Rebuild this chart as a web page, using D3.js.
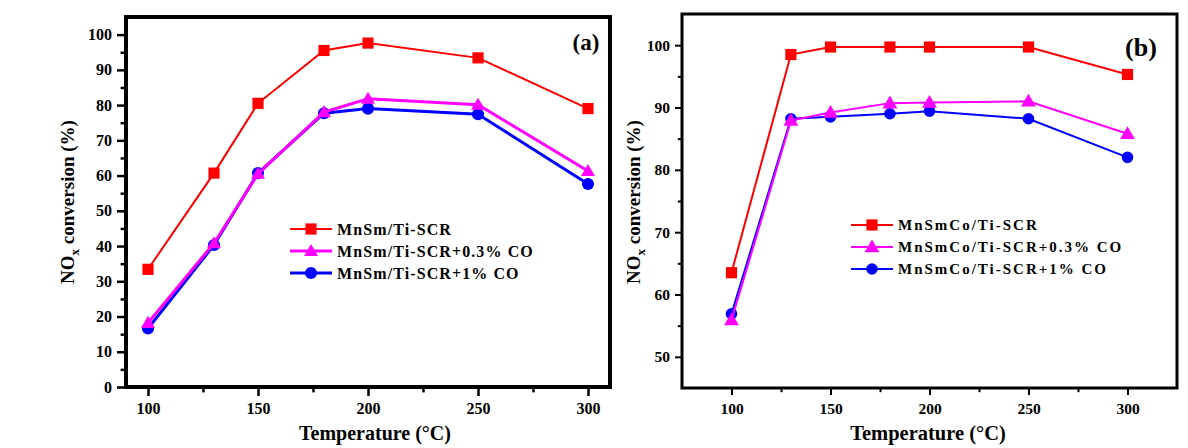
<!DOCTYPE html>
<html><head><meta charset="utf-8">
<script src="https://cdn.jsdelivr.net/npm/d3@7"></script>
<style>body{margin:0;background:#fff}svg{display:block}</style>
</head><body>
<svg id="c" width="1188" height="448"></svg>
<script>
const temps = [100, 130, 150, 180, 200, 250, 300];
const aNames = ["MnSm/Ti-SCR", "MnSm/Ti-SCR+0.3% CO", "MnSm/Ti-SCR+1% CO"];
const aRed = [33.4, 60.7, 80.5, 95.5, 97.6, 93.4, 79.0];
const aMag = [18.2, 40.8, 60.5, 78.0, 81.8, 80.1, 61.3];
const aBlue = [16.6, 40.3, 60.7, 77.7, 79.0, 77.4, 57.6];
const bNames = ["MnSmCo/Ti-SCR", "MnSmCo/Ti-SCR+0.3% CO", "MnSmCo/Ti-SCR+1% CO"];
const bRed = [63.5, 98.5, 99.7, 99.7, 99.7, 99.7, 95.3];
const bMag = [55.9, 87.9, 89.2, 90.7, 90.8, 91.0, 85.8];
const bBlue = [56.9, 88.2, 88.5, 89.0, 89.4, 88.2, 82.0];
const xTicks = [100, 150, 200, 250, 300];
const aYTicks = [0,10,20,30,40,50,60,70,80,90,100];
const bYTicks = [50,60,70,80,90,100];
const colors = ["#ff0000", "#ff00ff", "#0000ff"];
const shapes = [d3.symbolSquare, d3.symbolTriangle, d3.symbolCircle];
const FONT = '"Liberation Serif", "Times New Roman", serif';

const svg = d3.select("#c");

function txt(sel) { return sel.style("font-family", FONT).style("font-weight", "bold").attr("fill", "#000"); }

function panel(o) {
  const g = svg.append("g");
  const x = d3.scaleLinear().domain(o.xd).range([o.l, o.r]);
  const y = d3.scaleLinear().domain(o.yd).range([o.b, o.t]);
  const xMinor = d3.range(25, 400, 50).filter(v => v > o.xd[0] && v < o.xd[1]);
  const yMinor = d3.range(5, 110, 10).filter(v => v > o.yd[0] && v < o.yd[1]);
  const xa = d3.axisBottom(x).tickValues(xTicks).tickSize(o.tk).tickPadding(o.xpad);
  const ya = d3.axisLeft(y).tickValues(o.yTicks).tickSize(o.tk).tickPadding(5);
  g.append("g").attr("transform", `translate(0,${o.b})`).call(xa);
  g.append("g").attr("transform", `translate(${o.l},0)`).call(ya);
  g.append("g").attr("transform", `translate(0,${o.b})`).call(d3.axisBottom(x).tickValues(xMinor).tickSize(o.tk * 0.6).tickFormat(""));
  g.append("g").attr("transform", `translate(${o.l},0)`).call(d3.axisLeft(y).tickValues(yMinor).tickSize(o.tk * 0.6).tickFormat(""));
  g.selectAll(".domain").remove();
  g.selectAll(".tick line").attr("stroke", "#000").attr("stroke-width", o.tw);
  txt(g.selectAll(".tick text")).style("font-size", o.fs + "px");
  g.append("rect").attr("x", o.l).attr("y", o.t).attr("width", o.r - o.l).attr("height", o.b - o.t)
    .attr("fill", "none").attr("stroke", "#000").attr("stroke-width", o.bw);

  const line = d3.line().x((d, i) => x(temps[i])).y(d => y(d));
  [0, 2, 1].forEach(k => {
    const s = o.series[k];
    g.append("path").datum(s).attr("d", line).attr("fill", "none").attr("stroke", colors[k]).attr("stroke-width", o.lw[k]);
    g.selectAll(null).data(s).enter().append("path")
      .attr("transform", (d, i) => `translate(${x(temps[i])},${y(d) + (k === 1 ? 1 : 0)})`)
      .attr("d", d3.symbol().type(shapes[k]).size(o.ms[k])).attr("fill", colors[k]);
  });
  // legend
  o.names.forEach((n, k) => {
    const ly = o.legY + k * o.legDy;
    g.append("line").attr("x1", o.legX).attr("x2", o.legX + o.legW).attr("y1", ly).attr("y2", ly)
      .attr("stroke", colors[k]).attr("stroke-width", o.lw[k]);
    g.append("path").attr("transform", `translate(${o.legX + o.legW / 2},${ly + (k === 1 ? 1 : 0)})`)
      .attr("d", d3.symbol().type(shapes[k]).size(o.ms[k])).attr("fill", colors[k]);
    txt(g.append("text")).attr("x", o.legX + o.legW + 5).attr("y", ly).attr("dy", "0.35em")
      .style("font-size", o.lfs + "px").style("letter-spacing", o.ls + "px").text(n);
  });
  // panel label
  txt(g.append("text")).attr("x", o.pl[0]).attr("y", o.pl[1]).style("font-size", o.pfs + "px").attr("text-anchor", "middle").attr("dy", "0.35em").text(o.plabel);
  // axis titles
  txt(g.append("text")).attr("x", o.xt).attr("y", 433).attr("text-anchor", "middle").attr("dy", "0.35em")
    .style("font-size", o.tfs + "px").text("Temperature (\u00B0C)");
  const yt = txt(g.append("text")).attr("transform", `translate(${o.yt},202) rotate(-90)`).attr("text-anchor", "middle").attr("dy", "0.35em").style("font-size", "19px");
  yt.append("tspan").text("NO");
  yt.append("tspan").style("font-size", "13px").attr("dy", 5).text("x");
  yt.append("tspan").attr("dy", -5).text(" conversion (%)");
}

panel({
  l: 126, r: 610, t: 17, b: 387, xd: [90, 310], yd: [0, 105], yTicks: aYTicks,
  tk: 9, tw: 2.5, bw: 4, fs: 16, xpad: 7, series: [aRed, aMag, aBlue], lw: [2, 3, 3], ms: [125, 85, 115],
  names: aNames, legX: 290, legW: 42, legY: 229, legDy: 22, lfs: 16, ls: 1.1,
  pl: [586, 42], pfs: 23, plabel: "(a)", xt: 375, tfs: 20, yt: 67
});
panel({
  l: 682, r: 1177, t: 14, b: 388, xd: [75, 325], yd: [45, 105], yTicks: bYTicks,
  tk: 7, tw: 2, bw: 3, fs: 15.5, xpad: 8, series: [bRed, bMag, bBlue], lw: [2, 2, 2], ms: [125, 95, 105],
  names: bNames, legX: 851, legW: 42, legY: 225, legDy: 22, lfs: 15, ls: 2,
  pl: [1141, 47], pfs: 26, plabel: "(b)", xt: 928, tfs: 20.5, yt: 633
});
</script>
</body></html>
